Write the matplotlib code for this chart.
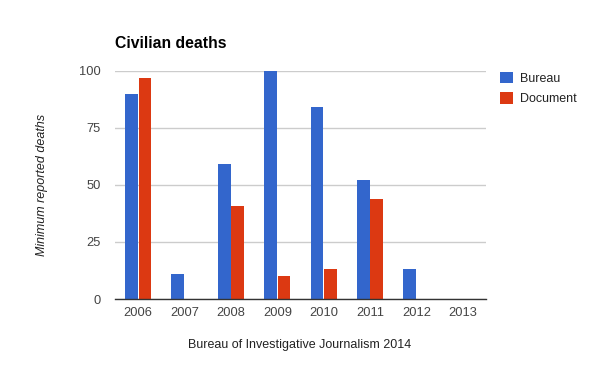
import matplotlib
matplotlib.use("Agg")
import matplotlib.pyplot as plt
import numpy as np

years = ["2006", "2007", "2008", "2009", "2010", "2011", "2012", "2013"]
bureau = [90, 11, 59, 100, 84, 52, 13, 0]
document = [97, 0, 41, 10, 13, 44, 0, 0]
yticks = [0, 25, 50, 75, 100]

plt.rcParams['font.family'] = ['Liberation Sans', 'DejaVu Sans']

fig = plt.figure(figsize=(6, 3.71), dpi=100)
ax = fig.add_axes([115/600, 1-299/371, (486-115)/600, (299-71)/371])

x = np.arange(len(years))
w = 0.274
ax.bar(x - w/2 - 0.008, bureau, width=w, color='#3366cc', label='Bureau', zorder=3)
ax.bar(x + w/2 + 0.008, document, width=w, color='#dc3912', label='Document', zorder=3)

ax.set_xlim(-0.5, len(years) - 0.5)
ax.set_ylim(0, 100)
ax.set_yticks(yticks)
ax.set_yticklabels([str(t) for t in yticks])
ax.set_xticks(x)
ax.set_xticklabels(years)
ax.yaxis.grid(True, color='#cccccc', linewidth=1, zorder=0)
ax.set_axisbelow(True)
for s in ['top', 'right', 'left']:
    ax.spines[s].set_visible(False)
ax.spines['bottom'].set_color('#333333')
ax.spines['bottom'].set_linewidth(1)
ax.spines['bottom'].set_zorder(4)
ax.tick_params(axis='both', length=0, labelsize=9.3, colors='#444444')
ax.tick_params(axis='x', pad=6)
ax.tick_params(axis='y', pad=10)

fig.text(115/600, 1-44/371, 'Civilian deaths', fontsize=11.3, fontweight='bold', va='center', ha='left', color='#000000')
fig.text(42/600, 1-185/371, 'Minimum reported deaths', fontsize=9, style='italic', rotation=90, va='center', ha='center', color='#222222')
fig.text(300/600, 1-345/371, 'Bureau of Investigative Journalism 2014', fontsize=9, va='center', ha='center', color='#222222')

leg = ax.legend(loc='upper left', bbox_to_anchor=(495/600, 1-67/371), bbox_transform=fig.transFigure,
                frameon=False, fontsize=9, handlelength=1.0, handleheight=1.0, handletextpad=0.6,
                labelspacing=0.6, borderaxespad=0)
for t in leg.get_texts():
    t.set_color('#222222')

fig.savefig('out.png', dpi=100)
